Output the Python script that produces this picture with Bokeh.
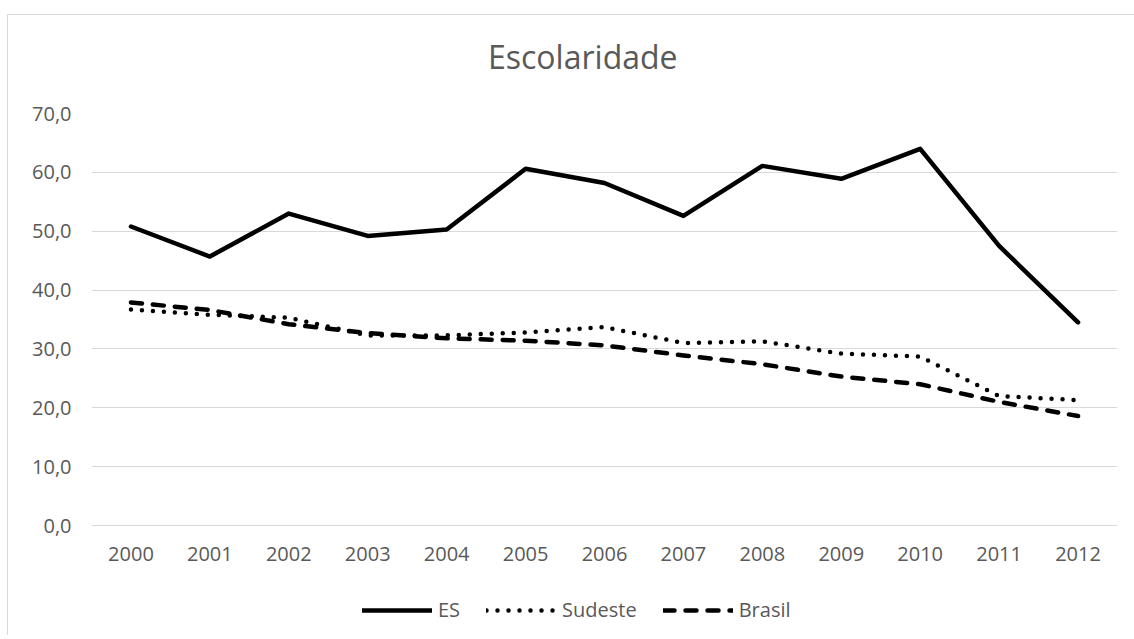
from bokeh.plotting import figure
from bokeh.layouts import column
from bokeh.models import Range1d, FactorRange, CustomJSTickFormatter, FixedTicker, Legend, LegendItem, Div
from bokeh.embed import file_html
from bokeh.resources import INLINE

years = ["2000", "2001", "2002", "2003", "2004", "2005", "2006", "2007", "2008", "2009", "2010", "2011", "2012"]
es = [50.8, 45.7, 53.0, 49.2, 50.3, 60.6, 58.2, 52.6, 61.1, 58.9, 64.0, 47.5, 34.5]
sudeste = [36.7, 35.8, 35.3, 32.3, 32.3, 32.8, 33.7, 31.0, 31.3, 29.2, 28.7, 22.0, 21.3]
brasil = [37.9, 36.6, 34.2, 32.7, 31.8, 31.4, 30.6, 28.9, 27.4, 25.3, 24.0, 21.0, 18.6]
series_names = ["ES", "Sudeste", "Brasil"]
y_ticks = [0, 10, 20, 30, 40, 50, 60, 70]
title_text = "Escolaridade"

FONT = "Open Sans"
GRAY = "#595959"
styles_list = [dict(line_dash="solid"), dict(line_dash="0 11"), dict(line_dash="11 11")]

title_div = Div(
    text=('<div style="position:relative; top:21px; margin-left:475px; font-family:\'Open Sans\'; '
          'font-size:32px; line-height:32px; color:#595959; white-space:nowrap;">%s</div>' % title_text),
    width=1123, height=74)

p = figure(frame_width=1026, frame_height=412, x_range=FactorRange(factors=years, range_padding=0),
           y_range=Range1d(0, 70), output_backend="svg", toolbar_location=None,
           min_border_left=83, min_border_right=14, min_border_top=14, min_border_bottom=50)

p.outline_line_color = None
p.xgrid.grid_line_color = None
p.ygrid.grid_line_color = "#d9d9d9"
p.ygrid.grid_line_width = 1

p.yaxis.ticker = FixedTicker(ticks=y_ticks)
p.yaxis.formatter = CustomJSTickFormatter(code="return tick.toFixed(1).replace('.', ',');")
p.yaxis.axis_line_color = None
p.yaxis.major_tick_line_color = None
p.yaxis.minor_tick_line_color = None
p.yaxis.major_label_text_font = FONT
p.yaxis.major_label_text_font_size = "20px"
p.yaxis.major_label_text_color = GRAY
p.yaxis.major_label_standoff = 14

p.xaxis.axis_line_color = "#d9d9d9"
p.xaxis.major_tick_line_color = None
p.xaxis.minor_tick_line_color = None
p.xaxis.major_label_text_font = FONT
p.xaxis.major_label_text_font_size = "20px"
p.xaxis.major_label_text_color = GRAY
p.xaxis.major_label_standoff = 15

for vals, st in zip([es, sudeste, brasil], styles_list):
    p.line(years, vals, line_color="black", line_width=4.5, line_join="round", line_cap="round", **st)

# legend strip: same series drawn out of view, only the legend is visible
lf = figure(width=1123, height=60, x_range=FactorRange(factors=years, range_padding=0),
            y_range=Range1d(1000, 1001), output_backend="svg", toolbar_location=None,
            x_axis_location=None, y_axis_location=None,
            min_border_left=0, min_border_right=0, min_border_top=0, min_border_bottom=0)
lf.outline_line_color = None
lf.xgrid.grid_line_color = None
lf.ygrid.grid_line_color = None
items = []
for name, vals, st in zip(series_names, [es, sudeste, brasil], styles_list):
    r = lf.line(years, vals, line_color="black", line_width=4.5, line_join="round", line_cap="round", **st)
    items.append(LegendItem(label=name, renderers=[r]))

legend = Legend(items=items, orientation="horizontal", location=(271, 12),
                label_text_font=FONT, label_text_font_size="20px", label_text_color=GRAY,
                glyph_width=70, label_standoff=6, spacing=26, border_line_color=None,
                background_fill_alpha=0, margin=0, padding=4)
lf.add_layout(legend)

layout = column(title_div, p, lf, spacing=0,
                styles={"border-top": "1px solid #d9d9d9", "border-left": "1px solid #d9d9d9",
                        "margin-top": "14px", "margin-left": "7px"})

open("out.html", "w").write(file_html(layout, INLINE))
